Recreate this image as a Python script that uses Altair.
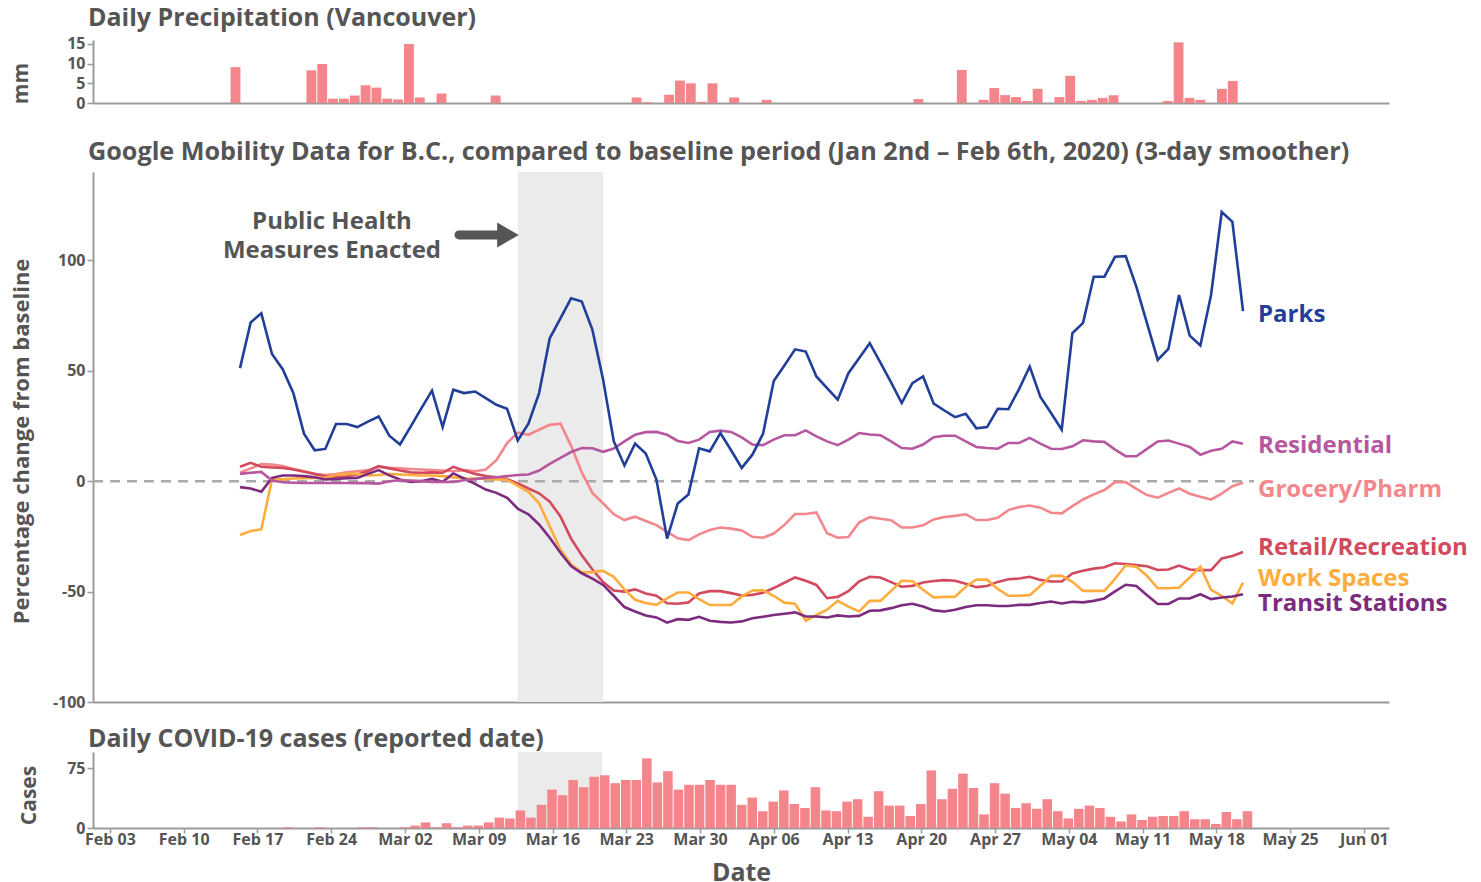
import altair as alt
import pandas as pd

FONT = "Open Sans"
TXT = "#555555"
AXIS_C = "#9b9b9b"
BAR_C = "#f4868b"
SHADE_C = "#ebebeb"

# ---------------- data ----------------
mob_start = "2020-02-16"
parks = [51.2, 71.9, 76, 57.6, 50.7, 39.9, 21.5, 14, 14.6, 25.9,
         25.9, 24.5, 27, 29.3, 20.6, 16.6, 24.7, 33, 41, 24.5,
         41.4, 39.9, 40.6, 37.6, 34.6, 32.8, 18.4, 26, 39.9, 64.7,
         73.7, 82.8, 81.3, 68.5, 46, 18.1, 7.1, 17, 12.5, 0.75,
         -26, -10.1, -6, 14.9, 13.5, 21.8, 14, 6, 12, 21.5,
         45.4, 52.4, 59.7, 58.7, 47.4, 42.1, 36.9, 48.9, 55.7, 62.5,
         53.7, 44.7, 35.4, 44.4, 47.4, 35.1, 32, 29, 30.5, 23.9,
         24.5, 32.8, 32.6, 41.7, 51.9, 38.1, 30.9, 23.3, 67, 71.7,
         92.6, 92.6, 101.6, 101.9, 88, 71.5, 54.9, 59.9, 84.3, 65.9,
         61.4, 84.3, 121.9, 117.4, 77]
residential = [3.3, 3.8, 4.2, 0.3, -0.5, -0.7, -0.8, -0.8, -0.8, -0.8,
               -0.8, -0.9, -0.9, -1.1, 0, 0.4, 0.3, 0, -0.3, -0.3,
               -0.4, 0.4, 1, 1.5, 1.8, 2.3, 2.8, 3, 4.8, 7.8,
               10.5, 13.2, 15, 14.9, 13.3, 14.8, 18, 21, 22.2, 22.3,
               21, 18.2, 17.3, 18.8, 22.3, 22.9, 22.3, 19.8, 16.6, 16.3,
               18.8, 20.8, 20.8, 23, 20.3, 18, 16.3, 18.8, 21.8, 21.1,
               20.8, 18, 15, 14.7, 16.6, 19.9, 20.6, 20.6, 18, 15.5,
               15, 14.7, 17.3, 17.3, 19.6, 17, 14.7, 14.6, 15.8, 18.5,
               18, 17.8, 14.3, 11.3, 11.3, 14.6, 18, 18.4, 17, 15.5,
               12, 13.8, 14.7, 18, 16.9]
grocery = [3.8, 5.8, 7.7, 7.5, 6.8, 5.5, 4.5, 3.2, 2.8, 3.2,
           4, 4.5, 5, 6.5, 6, 5.8, 5.5, 5.3, 5, 4.8,
           4.5, 5, 4.5, 5.3, 9.5, 17.3, 22, 21, 23.3, 25.5,
           26, 16, 4, -5.3, -10, -15, -17.6, -16.1, -18, -19.9,
           -23, -25.9, -26.7, -24.1, -22.1, -21, -21.5, -22.3, -25.2, -25.6,
           -23.7, -19.8, -14.9, -14.9, -14.2, -23.6, -25.6, -25.3, -18.7, -16.3,
           -17, -17.7, -21, -21, -20, -17.3, -16.2, -15.7, -15, -17.6,
           -17.6, -16.6, -13.1, -11.7, -11, -12, -14.3, -14.6, -11.3, -8.3,
           -6, -4, -0.45, -0.4, -3.5, -6.3, -7.5, -5.3, -3.3, -5.7,
           -7.1, -8.3, -5.6, -2.3, -0.75]
retail = [6.5, 8.3, 6.5, 6.2, 6, 5.3, 4.3, 3.3, 2.2, 1.8,
          2.2, 3, 4.5, 6.8, 5.8, 4.8, 4, 3.8, 4, 3.8,
          6.5, 4.8, 3.3, 2.3, 1.8, 1, -1, -3.3, -5.5, -9.3,
          -16, -26, -33.5, -40, -45.7, -49.5, -50, -49, -50.9, -51.9,
          -55.3, -55.5, -54.9, -50.9, -49.8, -49.8, -50.7, -51.8, -51.5, -50.5,
          -48.4, -46, -43.6, -45.1, -47, -53, -52.4, -49.8, -45.4, -43.3,
          -43.6, -45.7, -47.8, -47.4, -45.9, -45.2, -44.8, -45.1, -46.5, -48,
          -47.5, -45.6, -44.4, -44.1, -43.3, -44.7, -45.4, -45.4, -41.8, -40.6,
          -39.6, -39, -37.2, -37.5, -38, -38.5, -40.2, -40, -38.2, -40,
          -40.3, -40.3, -35, -33.9, -32.1]
work = [-24.4, -22.6, -21.8, 0.8, 0.8, 1.2, 1.3, 1.5, 1.5, 2.8,
        3.3, 3.3, 2.6, 2.8, 3.3, 3, 2.8, 2.6, 2.6, 2.3,
        1.7, 1.3, 1.2, 1, 0.8, 0.6, -2, -4.8, -10, -20.5,
        -31, -37.6, -41.3, -41.2, -40.6, -43.3, -49, -53.7, -55.2, -56,
        -53.1, -50.4, -50.4, -53.4, -56.1, -56.1, -56.1, -52.2, -49.5, -49.4,
        -51.9, -55, -55.5, -63.2, -60.6, -58.2, -54.2, -56.8, -59, -54.2,
        -54.2, -49.7, -45.1, -45.3, -49.2, -52.7, -52.4, -52.3, -47.8, -44.5,
        -44.6, -48.8, -51.9, -51.9, -51.6, -47.4, -42.9, -42.9, -45.6, -49.7,
        -49.7, -49.7, -44.2, -38.1, -38.8, -42.9, -48.5, -48.5, -48.2, -43.6,
        -38.8, -49.2, -51.9, -55.4, -45.9]
transit = [-2.7, -3.3, -4.8, 1.5, 2.6, 2.6, 2.3, 1.8, 0.8, 1,
           1.3, 1.5, 3.3, 5, 2.6, 0.8, -0.4, 0, 1, -0.3,
           3.5, 1.2, -1.2, -3.8, -5.3, -7.5, -12.5, -15, -19.6, -25.6,
           -32.4, -38.4, -41.7, -44.1, -47, -51.9, -57, -59, -60.8, -61.7,
           -64.1, -62.5, -62.8, -61.4, -63.2, -63.7, -64, -63.5, -62.1, -61.4,
           -60.6, -60, -59.4, -61.3, -61.3, -61.7, -60.8, -61.3, -61, -58.7,
           -58.5, -57.5, -56.2, -55.5, -56.8, -58.5, -59, -58.2, -57, -56.2,
           -56.2, -56.5, -56.5, -56, -56, -55.2, -54.5, -55.4, -54.6, -54.9,
           -54.2, -53.1, -49.9, -46.9, -47.5, -51.7, -55.6, -55.6, -53.1, -53.1,
           -51.2, -53.4, -52.7, -52.2, -51.2]

series_names = ["Grocery/Pharm", "Retail/Recreation", "Work Spaces",
                "Transit Stations", "Residential", "Parks"]
series_values = [grocery, retail, work, transit, residential, parks]
series_colors = ["#f4878b", "#d24a5d", "#fdac3d", "#7c2b7f", "#b6579f", "#213f99"]
label_values = [-3.9, -30.1, -44.5, -55.8, 16.0, 75.1]

precip_dates = ["2020-02-15", "2020-02-22", "2020-02-23", "2020-02-24", "2020-02-25",
                "2020-02-26", "2020-02-27", "2020-02-28", "2020-02-29", "2020-03-01",
                "2020-03-02", "2020-03-03", "2020-03-05", "2020-03-10", "2020-03-23",
                "2020-03-24", "2020-03-26", "2020-03-27", "2020-03-28", "2020-03-29",
                "2020-03-30", "2020-04-01", "2020-04-04", "2020-04-18", "2020-04-22",
                "2020-04-24", "2020-04-25", "2020-04-26", "2020-04-27", "2020-04-28",
                "2020-04-29", "2020-05-01", "2020-05-02", "2020-05-03", "2020-05-04",
                "2020-05-05", "2020-05-06", "2020-05-11", "2020-05-12", "2020-05-13",
                "2020-05-14", "2020-05-16", "2020-05-17"]
precip_mm = [9.1, 8.3, 9.9, 1.1, 1.1,
             1.9, 4.5, 3.9, 1.1, 0.9,
             15.0, 1.4, 2.4, 1.9, 1.4,
             0.2, 2.1, 5.7, 5.0, 0.3,
             5.0, 1.4, 0.8, 1.0, 8.4,
             0.8, 3.8, 2.0, 1.5, 0.5,
             3.6, 1.5, 6.9, 0.5, 0.8,
             1.3, 2.0, 0.5, 15.4, 1.3,
             0.8, 3.6, 5.6]

cases_start = "2020-02-20"
cases = [1, 0, 0, 1, 0, 0, 0, 1, 1, 0,
         0, 1, 3, 7, 1, 6, 1, 3, 3, 7,
         13, 12, 22, 13, 29, 48, 41, 60, 51, 64,
         66, 56, 60, 60, 87, 57, 71, 48, 54, 54,
         60, 54, 54, 29, 38, 21, 33, 47, 30, 25,
         51, 22, 21, 33, 36, 14, 46, 28, 28, 15,
         30, 72, 36, 49, 68, 50, 17, 56, 43, 25,
         31, 24, 36, 21, 12, 24, 28, 25, 14, 8,
         17, 10, 14, 15, 15, 21, 11, 11, 5, 20,
         11, 21]

# each panel keeps its own time scale (no shared x in the original)
top_domain = ("2020-02-02T07:23:00", "2020-05-31T20:46:00")
mid_domain = ("2020-02-01T21:14:00", "2020-06-02T09:25:00")
bot_domain = ("2020-02-01T09:20:00", "2020-06-03T09:20:00")
shade_span = ["2020-03-13", "2020-03-21"]
zero_line_end = "2020-05-20T17:40:00"
annotation_text = "Public Health\nMeasures Enacted"
annotation_at = ("2020-02-24T07:00:00", 117.4)
arrow_span = ("2020-03-07T04:45:00", "2020-03-10T18:20:00", 111.5)
arrow_head_at = "2020-03-11T19:00:00"
tick_dates = pd.date_range("2020-02-03", "2020-06-01", freq="7D")


def local(ts):
    """dates are UTC days, shown in Vancouver local time"""
    t = pd.to_datetime(ts)
    t = t.tz_localize("UTC") if t.tzinfo is None else t
    return t.tz_convert("America/Vancouver").tz_localize(None)


def dt(ts):
    t = pd.Timestamp(ts)
    return alt.DateTime(year=t.year, month=t.month, date=t.day, hours=t.hour, minutes=t.minute)


# ---------------- frames ----------------
rows = []
mob_dates = pd.date_range(mob_start, periods=len(parks), freq="D")
for name, vals in zip(series_names, series_values):
    for d, v in zip(mob_dates, vals):
        rows.append({"date": local(d), "value": v, "series": name})
mob = pd.DataFrame(rows)

lab = pd.DataFrame({"date": [local(mob_dates[-1])] * len(series_names),
                    "value": label_values, "series": series_names})

pr_d = pd.to_datetime(precip_dates)
prec = pd.DataFrame({"start": pr_d, "end": pr_d + pd.Timedelta(days=1),
                     "mm": precip_mm, "zero": 0})

cs_d = pd.date_range(cases_start, periods=len(cases), freq="D")
cas = pd.DataFrame({"start": cs_d - pd.Timedelta(hours=12), "end": cs_d + pd.Timedelta(hours=12),
                    "cases": cases, "zero": 0})
cas = cas[cas["cases"] > 0]

sh0, sh1 = local(shade_span[0]), local(shade_span[1])
shade_mid = pd.DataFrame({"start": [sh0], "end": [sh1], "top": [140], "bottom": [-100]})
shade_bot = pd.DataFrame({"start": [sh0], "end": [sh1], "top": [95], "bottom": [0]})
zero_df = pd.DataFrame({"start": [pd.Timestamp(mid_domain[0])],
                        "end": [pd.Timestamp(zero_line_end)], "v": [0]})
ann_df = pd.DataFrame({"date": [pd.Timestamp(annotation_at[0])], "v": [annotation_at[1]],
                       "t": [annotation_text]})
arrow_df = pd.DataFrame({"start": [pd.Timestamp(arrow_span[0])], "end": [pd.Timestamp(arrow_span[1])],
                         "v": [arrow_span[2]]})
head_df = pd.DataFrame({"date": [pd.Timestamp(arrow_head_at)], "v": [arrow_span[2]]})

xs_top = alt.Scale(domain=[dt(top_domain[0]), dt(top_domain[1])])
xs_mid = alt.Scale(domain=[dt(mid_domain[0]), dt(mid_domain[1])])
xs_bot = alt.Scale(domain=[dt(bot_domain[0]), dt(bot_domain[1])])
HYPHEN = "'' + datum.value"
W = 1296

# ---------------- top: precipitation ----------------
top = alt.Chart(prec).mark_bar(color=BAR_C, x2Offset=-1).encode(
    x=alt.X("start:T", scale=xs_top,
            axis=alt.Axis(labels=False, ticks=True, tickSize=19, tickOpacity=0, title=None)),
    x2="end:T",
    y=alt.Y("mm:Q", scale=alt.Scale(domain=[0, 16], nice=False),
            axis=alt.Axis(values=[0, 5, 10, 15], title="mm", titleX=-72, titleY=43,
                          labelExpr=HYPHEN)),
    y2="zero:Q",
).properties(width=W, height=63,
             title=alt.TitleParams("Daily Precipitation (Vancouver)", offset=5, dx=-5))

# ---------------- middle: mobility ----------------
color_scale = alt.Scale(domain=series_names, range=series_colors)
yscale_mid = alt.Scale(domain=[-100, 140], nice=False)

m_shade = alt.Chart(shade_mid).mark_rect(color=SHADE_C).encode(
    x=alt.X("start:T", scale=xs_mid, axis=alt.Axis(labels=False, ticks=False, title=None)),
    x2="end:T",
    y=alt.Y("top:Q", scale=yscale_mid,
            axis=alt.Axis(values=[-100, -50, 0, 50, 100], title="Percentage change from baseline",
                          titleX=-72, titleY=269, titleFontSize=22, labelExpr=HYPHEN)),
    y2="bottom:Q")
m_zero = alt.Chart(zero_df).mark_rule(color="#aaaaaa", strokeWidth=2.5, strokeDash=[10, 7]).encode(
    x=alt.X("start:T", scale=xs_mid), x2="end:T", y=alt.Y("v:Q", scale=yscale_mid))
m_lines = alt.Chart(mob).mark_line(strokeWidth=2.6).encode(
    x=alt.X("date:T", scale=xs_mid),
    y=alt.Y("value:Q", scale=yscale_mid),
    color=alt.Color("series:N", scale=color_scale, legend=None))
m_labels = alt.Chart(lab).mark_text(align="left", baseline="middle", dx=15, font=FONT,
                                    fontSize=24, fontWeight="bold").encode(
    x=alt.X("date:T", scale=xs_mid), y=alt.Y("value:Q", scale=yscale_mid),
    text="series:N", color=alt.Color("series:N", scale=color_scale, legend=None))
m_ann = alt.Chart(ann_df).mark_text(align="center", baseline="middle", font=FONT, fontSize=24,
                                    fontWeight="bold", color=TXT, lineBreak="\n",
                                    lineHeight=29).encode(
    x=alt.X("date:T", scale=xs_mid), y=alt.Y("v:Q", scale=yscale_mid), text="t:N")
m_arrow = alt.Chart(arrow_df).mark_rule(color=TXT, strokeWidth=9, strokeCap="round").encode(
    x=alt.X("start:T", scale=xs_mid), x2="end:T", y=alt.Y("v:Q", scale=yscale_mid))
m_head = alt.Chart(head_df).mark_point(shape="triangle-right", size=620, filled=True,
                                       color=TXT, opacity=1).encode(
    x=alt.X("date:T", scale=xs_mid), y=alt.Y("v:Q", scale=yscale_mid))

mid = alt.layer(m_shade, m_zero, m_lines, m_labels, m_ann, m_arrow, m_head).properties(
    width=W, height=530,
    title=alt.TitleParams("Google Mobility Data for B.C., compared to baseline period "
                          "(Jan 2nd \u2013 Feb 6th, 2020) (3-day smoother)",
                          offset=7, dx=-5, fontSize=25.2))

# ---------------- bottom: cases ----------------
yscale_bot = alt.Scale(domain=[0, 95], nice=False)
b_shade = alt.Chart(shade_bot).mark_rect(color=SHADE_C).encode(
    x=alt.X("start:T", scale=xs_bot,
            axis=alt.Axis(values=[dt(t) for t in tick_dates], format="%b %d", title="Date",
                          titleFontSize=25, tickSize=5, labelPadding=-2, titlePadding=25)),
    x2="end:T",
    y=alt.Y("top:Q", scale=yscale_bot,
            axis=alt.Axis(values=[0, 25, 50, 75], title="Cases", titleX=-64, titleY=43,
                          labelExpr=HYPHEN)),
    y2="bottom:Q")
b_bars = alt.Chart(cas).mark_bar(color=BAR_C, x2Offset=-1).encode(
    x=alt.X("start:T", scale=xs_bot), x2="end:T",
    y=alt.Y("cases:Q", scale=yscale_bot), y2="zero:Q")
bot = alt.layer(b_shade, b_bars).properties(
    width=W, height=76,
    title=alt.TitleParams("Daily COVID-19 cases (reported date)", offset=0, dx=-5))

chart = alt.vconcat(top, mid, bot, spacing=17).resolve_scale(x="independent").properties(
    padding={"left": 2, "top": -3, "right": 5, "bottom": 0}
).configure_view(stroke=None).configure_axis(
    grid=False, domainColor=AXIS_C, domainWidth=2, tickColor=AXIS_C, tickWidth=1.5, tickSize=6,
    labelFont=FONT, labelFontSize=16, labelFontWeight="bold", labelColor=TXT,
    titleFont=FONT, titleFontSize=21, titleFontWeight="bold", titleColor=TXT,
    titleAngle=-90, titleBaseline="middle", titleAlign="center"
).configure_axisX(titleAngle=0).configure_title(
    font=FONT, fontSize=25, fontWeight="bold", color=TXT, anchor="start", frame="group"
)

chart.save("out.html", embed_options={"renderer": "svg", "actions": False})
